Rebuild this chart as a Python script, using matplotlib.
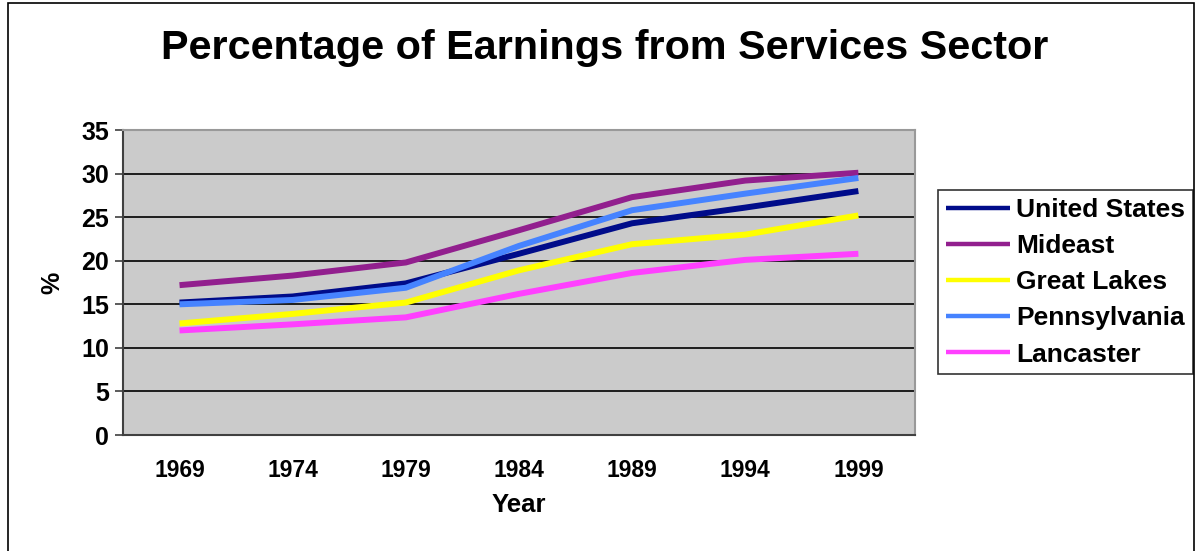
import matplotlib.pyplot as plt
from matplotlib.patches import Rectangle

plt.rcParams['font.family'] = ['Liberation Sans', 'DejaVu Sans']
plt.rcParams['font.weight'] = 'bold'

anos = ['1969', '1974', '1979', '1984', '1989', '1994', '1999']

united_states = [15.2, 15.9, 17.4, 20.8, 24.3, 26.1, 28.0]
mideast = [17.2, 18.3, 19.8, 23.5, 27.3, 29.2, 30.1]
great_lakes = [12.8, 13.9, 15.2, 18.9, 21.9, 23.0, 25.2]
pennsylvania = [15.0, 15.5, 16.9, 21.7, 25.8, 27.7, 29.5]
lancaster = [12.0, 12.7, 13.5, 16.2, 18.6, 20.1, 20.8]

series = [('United States', united_states, '#000c8a'),
          ('Mideast', mideast, '#921f8e'),
          ('Great Lakes', great_lakes, '#ffff00'),
          ('Pennsylvania', pennsylvania, '#4683ff'),
          ('Lancaster', lancaster, '#ff40ff')]

fig = plt.figure(figsize=(11.96, 5.51), dpi=100)
ax = fig.add_axes([0.1028, 0.2105, 0.6622, 0.5535])

# moldura da figura
fig.patches.append(Rectangle((0.007, -0.01), 0.991, 1.0045, transform=fig.transFigure,
                             fill=False, edgecolor='black', linewidth=1.2))

x = range(len(anos))
for nome, valores, cor in series:
    ax.plot(x, valores, color=cor, linewidth=4.3, label=nome, solid_capstyle='butt')

ax.set_facecolor('#cbcbcb')
ax.set_xlim(-0.5, 6.5)
ax.set_ylim(0, 35)
ax.set_yticks(range(0, 36, 5))
ax.set_xticks(list(x))
ax.set_xticklabels(anos)
ax.yaxis.grid(True, color='black', linewidth=1.2)
ax.set_axisbelow(True)
ax.tick_params(axis='y', length=6, width=1.2, color='#404040', labelsize=18, pad=4)
ax.tick_params(axis='x', length=0, labelsize=16.5, pad=17)

ax.spines['left'].set_color('#404040')
ax.spines['bottom'].set_color('#404040')
ax.spines['left'].set_linewidth(1.5)
ax.spines['bottom'].set_linewidth(1.5)
ax.spines['top'].set_color('#999999')
ax.spines['right'].set_color('#999999')
ax.spines['top'].set_linewidth(1.5)
ax.spines['right'].set_linewidth(1.5)

ax.set_xlabel('Year', fontsize=18.5, fontweight='bold', labelpad=8)
ax.set_ylabel('%', fontsize=18, fontweight='bold', labelpad=12)

fig.suptitle('Percentage of Earnings from Services Sector', x=0.506, y=0.948,
             fontsize=29.8, fontweight='bold')

leg = fig.legend(loc='upper left', bbox_to_anchor=(0.784, 0.655), fontsize=19,
                 frameon=True, fancybox=False, edgecolor='black', handlelength=2.45,
                 handletextpad=0.22, borderpad=0.3, labelspacing=0.46, borderaxespad=0)
leg.get_frame().set_linewidth(1.2)
for linha in leg.get_lines():
    linha.set_linewidth(3.2)

fig.savefig('out.png', dpi=100)
